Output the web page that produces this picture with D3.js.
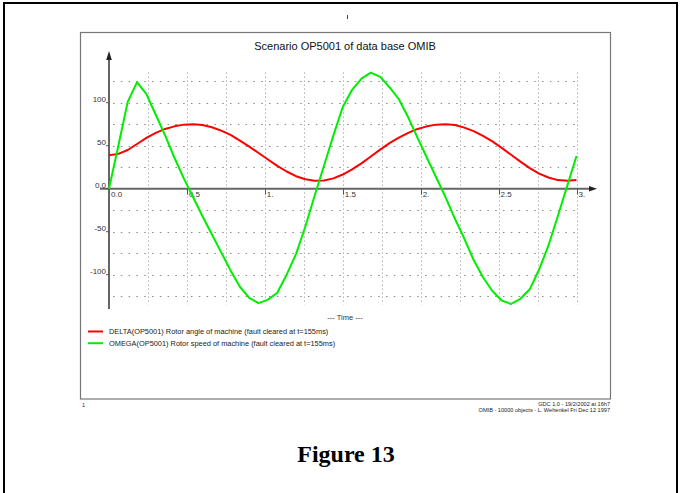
<!DOCTYPE html>
<html>
<head>
<meta charset="utf-8">
<script src="https://cdn.jsdelivr.net/npm/d3@7"></script>
<style>
  html, body { margin: 0; padding: 0; background: #fff; }
  svg { display: block; }
  text { font-family: "Liberation Sans", Arial, Helvetica, sans-serif; }
  text.caption { font-family: "Liberation Serif", "Times New Roman", serif; font-weight: bold; }
</style>
</head>
<body>
<svg id="fig" width="680" height="493"></svg>
<script>
// Sample times (s)
const time = [0.00,0.06,0.12,0.18,0.24,0.30,0.36,0.42,0.48,0.54,0.60,0.66,0.72,0.78,0.84,0.90,0.96,1.02,1.08,1.14,1.20,1.26,1.32,1.38,1.44,1.50,1.56,1.62,1.68,1.74,1.80,1.86,1.92,1.98,2.04,2.10,2.16,2.22,2.28,2.34,2.40,2.46,2.52,2.58,2.64,2.70,2.76,2.82,2.88,2.94,3.00];

// DELTA(OP5001) rotor angle
const delta = [39,40.5,45,52,59,65,69.5,72.5,74.5,75,74,71.5,67.5,62.5,56,49,41.5,34,26.5,20,14.5,11,9.3,9.6,12,16.5,22.5,29.5,37.5,45.5,53,59.5,65,69.5,72.5,74.5,75,74,71,67,61.5,55,47.5,39.5,31.5,24,17.5,13,10,9.3,10];

// OMEGA(OP5001) rotor speed
const omega = [0,50,101,124,110,86,62,36,12,-10,-32,-53,-74,-95,-114,-127,-133,-129,-121,-100,-76,-44,-8,27,62,95,115,128,135,130,118,104,83,59,36,13,-10,-35,-58,-83,-103,-119,-130,-134,-128,-117,-94,-66,-32,3,38];

const xTicks = [0,0.5,1,1.5,2,2.5,3];
const xTickLabels = ["0.0","0.5","1.","1.5","2.","2.5","3."];
const yTicks = [-100,-50,0,50,100];
const yTickLabels = ["-100","-50","0.0","50","100"];
const xGrid = [0.25,0.5,0.75,1,1.25,1.5,1.75,2,2.25,2.5,2.75,3];
const yGrid = [-125,-100,-75,-50,-25,25,50,75,100,125];

const seriesNames = [
  "DELTA(OP5001) Rotor angle of machine (fault cleared at t=155ms)",
  "OMEGA(OP5001) Rotor speed of machine (fault cleared at t=155ms)"
];
const seriesColors = ["#ff0000", "#00ee00"];

const svg = d3.select("#fig");

// page border
svg.append("path")
  .attr("d", "M4,493 L4,3 L677,3 L677,493")
  .attr("fill", "none").attr("stroke", "#000").attr("stroke-width", 2);
svg.append("line").attr("x1", 347.5).attr("x2", 347.5).attr("y1", 15).attr("y2", 19)
  .attr("stroke", "#444").attr("stroke-width", 1);

// plot frame
svg.append("rect").attr("x", 80.5).attr("y", 32.5).attr("width", 530).attr("height", 366.5)
  .attr("fill", "none").attr("stroke", "#777").attr("stroke-width", 1.2);

const x = d3.scaleLinear().domain([0, 3]).range([109, 576.5]);
const y = d3.scaleLinear().domain([0, 125]).range([188.7, 81.2]);

svg.append("text").attr("x", 345).attr("y", 50).attr("text-anchor", "middle")
  .attr("font-size", 11).attr("fill", "#111").text("Scenario OP5001 of data base OMIB");

// grid
const grid = svg.append("g").attr("stroke", "#8a8a8a").attr("stroke-width", 1);
grid.selectAll("line.v").data(xGrid).join("line").attr("class", "v")
  .attr("x1", d => Math.round(x(d)) + 0.5).attr("x2", d => Math.round(x(d)) + 0.5)
  .attr("y1", y(135)).attr("y2", y(-135))
  .attr("stroke-dasharray", "1,3");
grid.selectAll("line.h").data(yGrid).join("line").attr("class", "h")
  .attr("x1", x(0) + 4).attr("x2", x(3) + 1)
  .attr("y1", d => Math.round(y(d)) + 0.5).attr("y2", d => Math.round(y(d)) + 0.5)
  .attr("stroke-dasharray", "1.5,6.3");

// axes
const axisColor = "#666";
svg.append("line").attr("x1", x(0)).attr("x2", x(0)).attr("y1", 309).attr("y2", 58)
  .attr("stroke", axisColor).attr("stroke-width", 2);
svg.append("path").attr("d", `M${x(0)},51 L${x(0) - 2.8},60 L${x(0) + 2.8},60 Z`).attr("fill", "#222");
svg.append("line").attr("x1", 100).attr("x2", 591).attr("y1", y(0)).attr("y2", y(0))
  .attr("stroke", axisColor).attr("stroke-width", 2);
svg.append("path").attr("d", `M597,${y(0)} L589,${y(0) - 2.8} L589,${y(0) + 2.8} Z`).attr("fill", "#222");

// x ticks and labels
const xt = svg.append("g");
xt.selectAll("line").data(xTicks.slice(1)).join("line")
  .attr("x1", d => Math.round(x(d)) + 0.5).attr("x2", d => Math.round(x(d)) + 0.5)
  .attr("y1", y(0)).attr("y2", y(0) + 6).attr("stroke", "#555").attr("stroke-width", 1);
xt.selectAll("text").data(xTicks).join("text")
  .attr("x", d => x(d) + 2).attr("y", y(0) + 8.5)
  .attr("font-size", 8).attr("fill", "#333")
  .text((d, i) => xTickLabels[i]);

// y ticks and labels
const yt = svg.append("g");
yt.selectAll("line").data(yTicks).join("line")
  .attr("x1", x(0) - 3).attr("x2", x(0))
  .attr("y1", d => y(d)).attr("y2", d => y(d)).attr("stroke", "#555").attr("stroke-width", 1);
yt.selectAll("text").data(yTicks).join("text")
  .attr("x", x(0) - 3).attr("y", d => y(d) - 0.5).attr("text-anchor", "end")
  .attr("font-size", 8).attr("fill", "#333")
  .text((d, i) => yTickLabels[i]);

// curves
const line = d3.line().x(d => x(d[0])).y(d => y(d[1]));
[delta, omega].forEach((vals, k) => {
  svg.append("path")
    .datum(time.map((t, i) => [t, vals[i]]))
    .attr("d", line)
    .attr("fill", "none").attr("stroke", seriesColors[k])
    .attr("stroke-width", 2).attr("stroke-linejoin", "round");
});

svg.append("text").attr("x", 345).attr("y", 320).attr("text-anchor", "middle")
  .attr("font-size", 7.5).attr("fill", "#333").text("--- Time ---");

// legend
const leg = svg.append("g");
seriesNames.forEach((name, i) => {
  const ly = 331.5 + i * 11.7;
  leg.append("line").attr("x1", 88).attr("x2", 103).attr("y1", ly).attr("y2", ly)
    .attr("stroke", seriesColors[i]).attr("stroke-width", 2);
  leg.append("text").attr("x", 109).attr("y", ly + 2.5)
    .attr("font-size", 7.4).attr("fill", "#222").text(name);
});

// footer
svg.append("text").attr("x", 82).attr("y", 407).attr("font-size", 5.5).attr("fill", "#222").text("1");
svg.append("text").attr("x", 610).attr("y", 406).attr("text-anchor", "end")
  .attr("font-size", 5.6).attr("fill", "#222").text("GDC 1.0 - 19/2/2002 at 16h7");
svg.append("text").attr("x", 610).attr("y", 411.8).attr("text-anchor", "end")
  .attr("font-size", 5.6).attr("fill", "#222").text("OMIB - 10000 objects - L. Wehenkel Fri Dec 12 1997");

svg.append("text").attr("class", "caption").attr("x", 346).attr("y", 462).attr("text-anchor", "middle")
  .attr("font-size", 24).attr("fill", "#000").text("Figure 13");
</script>
</body>
</html>
